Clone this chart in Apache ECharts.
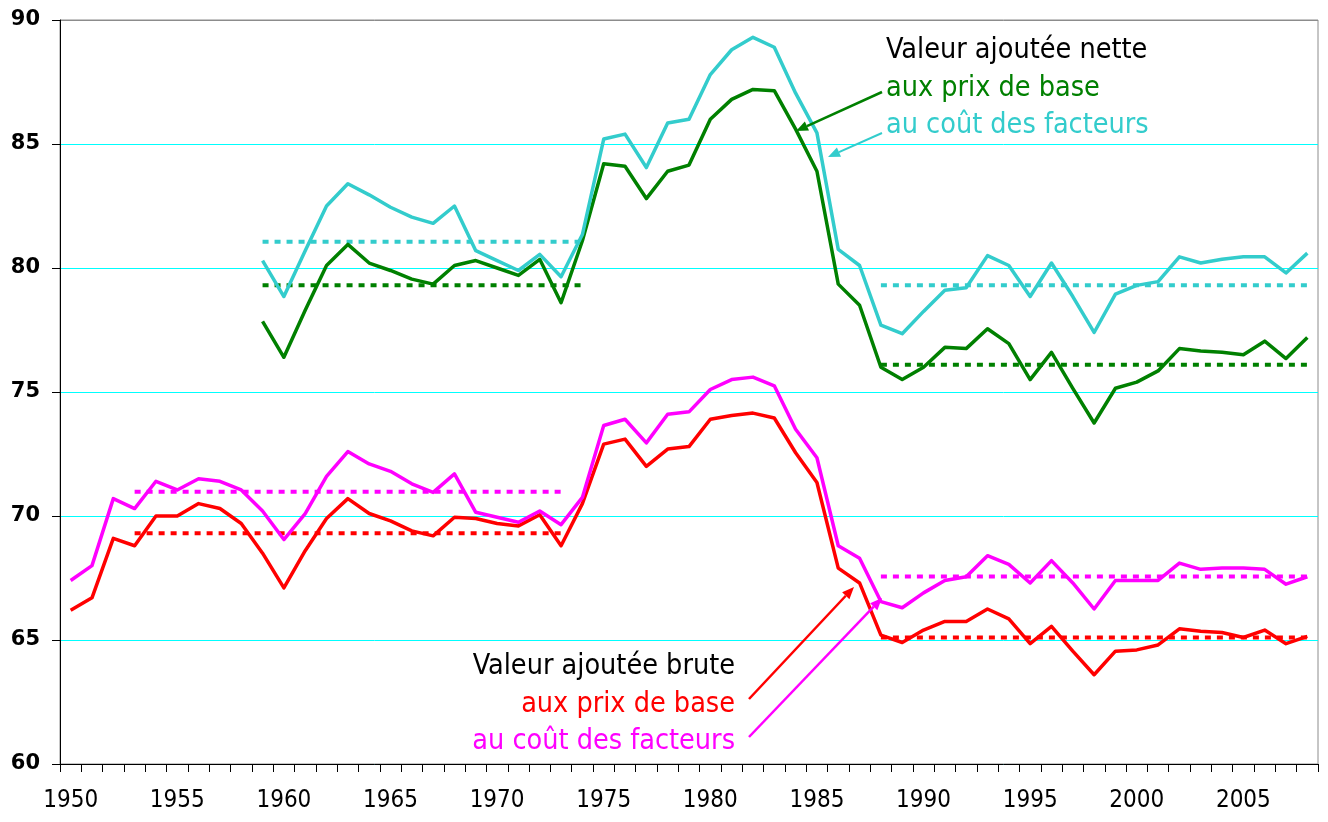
<!DOCTYPE html>
<html><head><meta charset="utf-8">
<script src="https://cdn.jsdelivr.net/npm/echarts@6/dist/echarts.min.js"></script>
<style>html,body{margin:0;padding:0;background:#fff}#c{width:1328px;height:822px}</style>
</head><body><div id="c"></div>
<script>
// ---- Data ----
const years = ["1950","1951","1952","1953","1954","1955","1956","1957","1958","1959",
  "1960","1961","1962","1963","1964","1965","1966","1967","1968","1969",
  "1970","1971","1972","1973","1974","1975","1976","1977","1978","1979",
  "1980","1981","1982","1983","1984","1985","1986","1987","1988","1989",
  "1990","1991","1992","1993","1994","1995","1996","1997","1998","1999",
  "2000","2001","2002","2003","2004","2005","2006","2007","2008"];

// Valeur ajoutée brute aux prix de base (1950-2008)
const bruteBase = [66.2,66.7,69.1,68.8,70.0,70.0,70.5,70.3,69.7,68.5,
  67.1,68.6,69.9,70.7,70.1,69.8,69.4,69.2,69.95,69.9,
  69.7,69.6,70.05,68.8,70.5,72.9,73.1,72.0,72.7,72.8,
  73.9,74.05,74.15,73.95,72.55,71.35,67.9,67.3,65.2,64.9,
  65.4,65.75,65.75,66.25,65.85,64.85,65.55,64.55,63.6,64.55,
  64.6,64.8,65.45,65.35,65.3,65.1,65.4,64.85,65.15];

// Valeur ajoutée brute au coût des facteurs (1950-2008)
const bruteFacteurs = [67.4,68.0,70.7,70.3,71.4,71.05,71.5,71.4,71.05,70.2,
  69.05,70.1,71.6,72.6,72.1,71.8,71.3,70.95,71.7,70.15,
  69.95,69.75,70.2,69.65,70.75,73.65,73.9,72.95,74.1,74.2,
  75.1,75.5,75.6,75.25,73.5,72.35,68.8,68.3,66.55,66.3,
  66.9,67.4,67.55,68.4,68.05,67.3,68.2,67.3,66.25,67.4,
  67.4,67.4,68.1,67.85,67.9,67.9,67.85,67.25,67.55];

// Valeur ajoutée nette : first year
const netteStart = 1959;
// Valeur ajoutée nette aux prix de base (1959-2008)
const netteBase = [77.85,
  76.4,78.3,80.1,80.95,80.2,79.9,79.55,79.35,80.1,80.3,
  80.0,79.7,80.35,78.6,81.1,84.2,84.1,82.8,83.9,84.15,
  86.0,86.8,87.2,87.15,85.6,83.9,79.35,78.5,76.0,75.5,
  76.0,76.8,76.75,77.55,76.95,75.5,76.6,75.15,73.75,75.15,
  75.4,75.85,76.75,76.65,76.6,76.5,77.05,76.35,77.2];

// Valeur ajoutée nette au coût des facteurs (1959-2008)
const netteFacteurs = [80.3,
  78.85,80.7,82.5,83.4,82.95,82.45,82.05,81.8,82.5,80.7,
  80.3,79.9,80.55,79.65,81.35,85.2,85.4,84.05,85.85,86.0,
  87.8,88.8,89.3,88.9,87.05,85.45,80.75,80.1,77.7,77.35,
  78.25,79.1,79.2,80.5,80.1,78.85,80.2,78.85,77.4,78.95,
  79.3,79.45,80.45,80.2,80.35,80.45,80.45,79.8,80.6];

// Period averages (dotted lines): [first year, last year]
const periodEarlyBrute = [1953, 1973];
const periodEarlyNette = [1959, 1974];
const periodLate = [1988, 2008];
// [early average, late average]
const avgBruteBase = [69.3, 65.1];
const avgBruteFacteurs = [70.98, 67.56];
const avgNetteBase = [79.3, 76.1];
const avgNetteFacteurs = [81.06, 79.3];

const yTicks = [60, 65, 70, 75, 80, 85, 90];

// ---- Build ----
const padNette = arr => years.map(y => { const i = +y - netteStart; return i >= 0 ? arr[i] : null; });
const avgSeries = (early, late, avg) => years.map(y => {
  const v = +y;
  if (v >= early[0] && v <= early[1]) return avg[0];
  if (v >= late[0] && v <= late[1]) return avg[1];
  return null;
});

const RED = '#FF0000', MAG = '#FF00FF', GREEN = '#008000', CYAN = '#33CCCC';
const solid = (name, data, color) => ({
  name, type: 'line', data, symbol: 'none', smooth: false, connectNulls: false,
  lineStyle: { color, width: 3.5, join: 'round' }, z: 3, animation: false
});
const dotted = (name, data, color) => ({
  name, type: 'line', data, symbol: 'none', connectNulls: false,
  lineStyle: { color, width: 4, type: [6, 6], cap: 'butt' }, z: 2, animation: false
});

function arrow(x1, y1, x2, y2, color, w) {
  const a = Math.atan2(y2 - y1, x2 - x1), L = 12, H = 5;
  const c = Math.cos(a), s = Math.sin(a);
  const bx = x2 - L * c, by = y2 - L * s;
  return [
    { type: 'line', shape: { x1, y1, x2: bx, y2: by }, style: { stroke: color, lineWidth: w }, z: 10 },
    { type: 'polygon', shape: { points: [[x2, y2], [bx + H * s, by - H * c], [bx - H * s, by + H * c]] },
      style: { fill: color }, z: 10 }
  ];
}
const FONT = '28.5px "DejaVu Sans Condensed", "DejaVu Sans", sans-serif';
const label = (text, x, y, color, align) => ({
  type: 'text', x, y, z: 10,
  style: { text, fill: color, font: FONT, textAlign: align, textVerticalAlign: 'middle' }
});

const chart = echarts.init(document.getElementById('c'), null, { renderer: 'canvas' });
chart.setOption({
  animation: false,
  backgroundColor: '#fff',
  grid: { left: 60, right: 10, top: 20, bottom: 58, show: true, borderColor: '#8c8c8c', borderWidth: 1 },
  xAxis: {
    type: 'category', data: years, boundaryGap: true,
    axisLine: { lineStyle: { color: '#000', width: 1 } },
    axisTick: { show: true, interval: 0, length: 8, lineStyle: { color: '#000' } },
    axisLabel: { interval: 4, margin: 25, color: '#000', fontSize: 24,
      fontFamily: '"DejaVu Sans Condensed", sans-serif' },
    splitLine: { show: false }
  },
  yAxis: {
    type: 'value', min: yTicks[0], max: yTicks[yTicks.length - 1], interval: 5,
    axisLine: { show: true, lineStyle: { color: '#000', width: 1 } },
    axisTick: { show: true, length: 8, lineStyle: { color: '#000' } },
    axisLabel: { margin: 20, color: '#000', fontSize: 21, fontWeight: 'bold', fontFamily: '"DejaVu Sans", sans-serif' },
    splitLine: { show: true, lineStyle: { color: ['#00FFFF','#00FFFF','#00FFFF','#00FFFF','#00FFFF','#00FFFF','#8c8c8c'], width: 1 } }
  },
  series: [
    dotted('Moyenne brute prix de base', avgSeries(periodEarlyBrute, periodLate, avgBruteBase), RED),
    dotted('Moyenne brute coût des facteurs', avgSeries(periodEarlyBrute, periodLate, avgBruteFacteurs), MAG),
    dotted('Moyenne nette prix de base', avgSeries(periodEarlyNette, periodLate, avgNetteBase), GREEN),
    dotted('Moyenne nette coût des facteurs', avgSeries(periodEarlyNette, periodLate, avgNetteFacteurs), CYAN),
    solid('VA brute aux prix de base', bruteBase, RED),
    solid('VA brute au coût des facteurs', bruteFacteurs, MAG),
    solid('VA nette aux prix de base', padNette(netteBase), GREEN),
    solid('VA nette au coût des facteurs', padNette(netteFacteurs), CYAN)
  ],
  graphic: [
    label('Valeur ajoutée nette', 886, 51, '#000', 'left'),
    label('aux prix de base', 886, 89, GREEN, 'left'),
    label('au coût des facteurs', 886, 126, CYAN, 'left'),
    label('Valeur ajoutée brute', 735, 667, '#000', 'right'),
    label('aux prix de base', 735, 705, RED, 'right'),
    label('au coût des facteurs', 735, 742, MAG, 'right'),
    ...arrow(882, 92, 796, 131, GREEN, 2.5),
    ...arrow(882, 133, 828, 157, CYAN, 2),
    ...arrow(749, 699, 854, 587, RED, 2.5),
    ...arrow(749, 737, 882, 598, MAG, 2.5)
  ]
});
</script>
</body></html>
